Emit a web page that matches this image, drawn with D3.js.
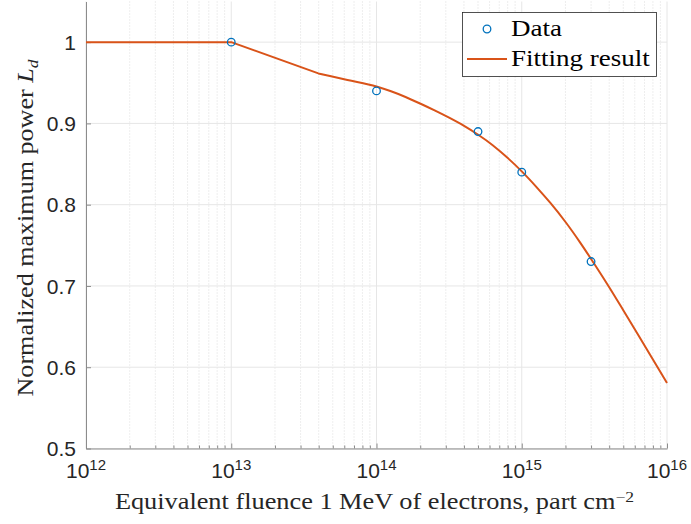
<!DOCTYPE html>
<html>
<head>
<meta charset="utf-8">
<script src="https://cdn.jsdelivr.net/npm/d3@7"></script>
<style>
  body { margin: 0; background: #fff; }
  svg { display: block; }
</style>
</head>
<body>
<svg id="chart" width="691" height="524"></svg>
<script>
// measured points
let fluence = [1e13, 1e14, 5e14, 1e15, 3e15]
let power = [1, 0.94, 0.89, 0.84, 0.73]

// fitted curve (log10 of fluence)
let fitLog = [12, 13, 13.6, 13.8, 14, 14.1, 14.2, 14.3, 14.4, 14.5, 14.6, 14.7, 14.8, 14.9, 15, 15.1, 15.2, 15.3, 15.4, 15.5, 15.6, 15.7, 15.8, 15.9, 16]
let fitPower = [1, 1, 0.9615, 0.9535, 0.9455, 0.9395, 0.9325, 0.9245, 0.916, 0.907, 0.8972, 0.886, 0.8732, 0.858, 0.841, 0.822, 0.8015, 0.779, 0.754, 0.727, 0.699, 0.6698, 0.6403, 0.6105, 0.5805]

let xTicks = [1e12, 1e13, 1e14, 1e15, 1e16]
let xTickExp = ["12", "13", "14", "15", "16"]
let yTicks = [0.5, 0.6, 0.7, 0.8, 0.9, 1]
let yTickLabels = ["0.5", "0.6", "0.7", "0.8", "0.9", "1"]

let pLeft = 86, pRight = 667, pTop = 1.5, pBottom = 448.5

let svg = d3.select("#chart")

let x = d3.scaleLog().domain([1e12, 1e16]).range([pLeft, pRight])
let y = d3.scaleLinear().domain([0.5, 1.05]).range([pBottom, pTop])

// minor decade positions
let minor = []
for (let e = 12; e < 16; e++) {
  for (let k = 2; k <= 9; k++) minor.push(k * Math.pow(10, e))
}

let grid = svg.append("g")
grid.selectAll(".minor-x")
  .data(minor)
  .join("line")
  .attr("x1", d => x(d)).attr("x2", d => x(d))
  .attr("y1", pTop).attr("y2", pBottom)
  .attr("stroke", "#d4d4d4")
  .attr("stroke-width", 0.8)
  .attr("stroke-dasharray", "1,2")

grid.selectAll(".major-x")
  .data(xTicks)
  .join("line")
  .attr("x1", d => x(d)).attr("x2", d => x(d))
  .attr("y1", pTop).attr("y2", pBottom)
  .attr("stroke", "#e6e6e6")

grid.selectAll(".major-y")
  .data(yTicks)
  .join("line")
  .attr("x1", pLeft).attr("x2", pRight)
  .attr("y1", d => y(d)).attr("y2", d => y(d))
  .attr("stroke", "#e6e6e6")

// axes
let axisColor = "#8c8c8c"
let textColor = "#262626"

let xAxis = svg.append("g")
  .attr("transform", `translate(0,${pBottom})`)
  .call(d3.axisBottom(x).tickValues(xTicks).tickSizeInner(-5).tickSizeOuter(0).tickFormat(""))
let xMinorAxis = svg.append("g")
  .attr("transform", `translate(0,${pBottom})`)
  .call(d3.axisBottom(x).tickValues(minor).tickSizeInner(-3).tickSizeOuter(0).tickFormat(""))
xMinorAxis.select(".domain").remove()

let yAxis = svg.append("g")
  .attr("transform", `translate(${pLeft},0)`)
  .call(d3.axisLeft(y).tickValues(yTicks).tickSizeInner(-5).tickSizeOuter(0).tickFormat(""))

svg.selectAll(".domain").attr("stroke", axisColor)
svg.selectAll(".tick line").attr("stroke", axisColor)

// tick labels
svg.append("g").selectAll("text")
  .data(yTicks)
  .join("text")
  .attr("x", pLeft - 10)
  .attr("y", d => y(d))
  .attr("dy", "0.36em")
  .attr("text-anchor", "end")
  .style("font-family", "'Liberation Sans', Arial, sans-serif")
  .style("font-size", "21px")
  .attr("fill", textColor)
  .text((d, i) => yTickLabels[i])

let xl = svg.append("g").selectAll("text")
  .data(xTicks)
  .join("text")
  .attr("x", d => x(d))
  .attr("y", pBottom + 29)
  .attr("text-anchor", "middle")
  .style("font-family", "'Liberation Sans', Arial, sans-serif")
  .style("font-size", "21px")
  .attr("fill", textColor)
xl.append("tspan").text("10")
xl.append("tspan")
  .attr("dy", "-0.5em")
  .style("font-size", "15px")
  .text((d, i) => xTickExp[i])

// fit line: straight up to the bend near 4e13, smoothed after that
let fitPts = fitLog.map((l, i) => [Math.pow(10, l), fitPower[i]])
let line = d3.line()
  .x(d => x(d[0]))
  .y(d => y(d[1]))
let smooth = d3.line()
  .x(d => x(d[0]))
  .y(d => y(d[1]))
  .curve(d3.curveMonotoneX)

svg.append("path")
  .attr("d", line(fitPts.slice(0, 3)) + smooth(fitPts.slice(2)).replace(/^M[^A-Za-z]*/, ""))
  .attr("fill", "none")
  .attr("stroke", "#D95319")
  .attr("stroke-width", 2)
  .attr("stroke-linejoin", "round")

// data markers
svg.append("g").selectAll("circle")
  .data(fluence)
  .join("circle")
  .attr("cx", d => x(d))
  .attr("cy", (d, i) => y(power[i]))
  .attr("r", 3.8)
  .attr("fill", "none")
  .attr("stroke", "#0072BD")
  .attr("stroke-width", 1.3)

// axis titles (serif, stretched a bit to match the LaTeX look)
let serif = "'Liberation Serif', 'Times New Roman', serif"
let xt = svg.append("text")
  .attr("transform", `translate(${(pLeft + pRight) / 2 - 2},509) scale(1.17,1)`)
  .attr("text-anchor", "middle")
  .style("font-family", serif)
  .style("font-size", "22.5px")
  .attr("fill", textColor)
xt.append("tspan").text("Equivalent fluence 1 MeV of electrons, part cm")
xt.append("tspan").attr("dy", "-0.5em").style("font-size", "15px").text("\u22122")

let yt = svg.append("text")
  .attr("transform", `translate(33,${(pTop + pBottom) / 2 + 3}) rotate(-90) scale(1.16,1)`)
  .attr("text-anchor", "middle")
  .style("font-family", serif)
  .style("font-size", "22.5px")
  .attr("fill", textColor)
yt.append("tspan").text("Normalized maximum power ")
yt.append("tspan").style("font-style", "italic").text("L")
yt.append("tspan").attr("dy", "0.3em").style("font-size", "15px").style("font-style", "italic").text("d")

// legend
let legend = svg.append("g")
legend.append("rect")
  .attr("x", 462.5).attr("y", 12.5)
  .attr("width", 194).attr("height", 64)
  .attr("fill", "#fff")
  .attr("stroke", "#262626")
  .attr("stroke-width", 0.8)
legend.append("circle")
  .attr("cx", 487).attr("cy", 29).attr("r", 3.8)
  .attr("fill", "none").attr("stroke", "#0072BD").attr("stroke-width", 1.3)
legend.append("line")
  .attr("x1", 467).attr("x2", 507).attr("y1", 59).attr("y2", 59)
  .attr("stroke", "#D95319").attr("stroke-width", 2)
legend.selectAll(".lbl")
  .data(["Data", "Fitting result"])
  .join("text")
  .attr("transform", (d, i) => `translate(511,${36 + i * 30}) scale(1.2,1)`)
  .style("font-family", serif)
  .style("font-size", "22.5px")
  .attr("fill", "#000")
  .text(d => d)
</script>
</body>
</html>
